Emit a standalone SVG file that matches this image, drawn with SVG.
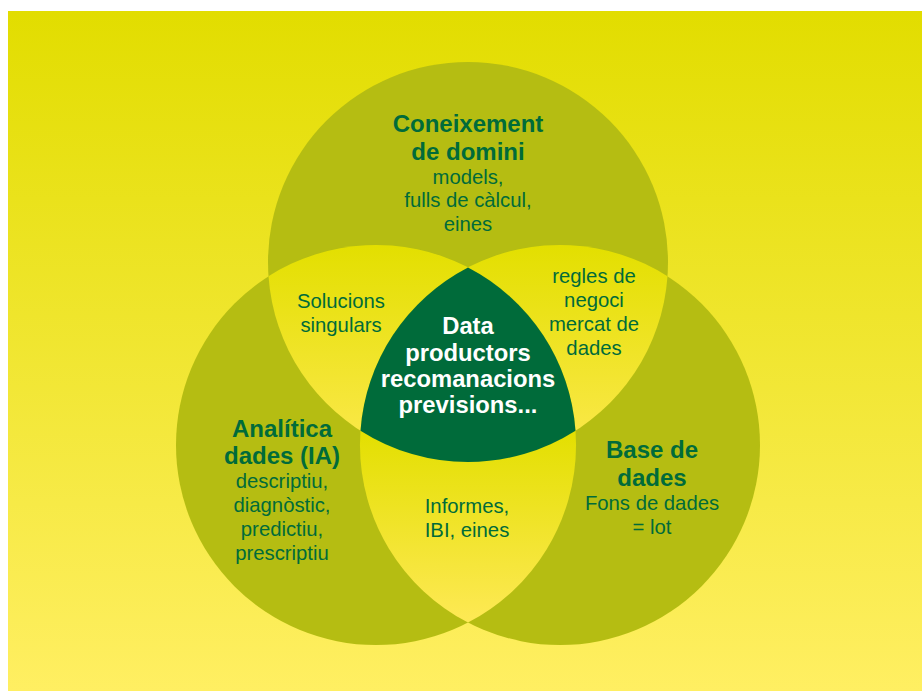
<svg xmlns="http://www.w3.org/2000/svg" width="922" height="691" viewBox="0 0 922 691">
  <defs>
    <linearGradient id="bg" x1="0" y1="11" x2="0" y2="691" gradientUnits="userSpaceOnUse">
      <stop offset="0" stop-color="#e2dd00"/>
      <stop offset="1" stop-color="#ffef62"/>
    </linearGradient>
    <linearGradient id="lens" x1="0" y1="0" x2="0" y2="1">
      <stop offset="0" stop-color="#e3df00"/>
      <stop offset="1" stop-color="#fde950"/>
    </linearGradient>
    <linearGradient id="lensB" x1="0" y1="430" x2="0" y2="623" gradientUnits="userSpaceOnUse">
      <stop offset="0" stop-color="#e3df00"/>
      <stop offset="1" stop-color="#fee955"/>
    </linearGradient>
    <style>
      .circ { fill: #b5bd12; }
      .lens { fill: url(#lens); }
      .core { fill: #006b3a; }
      text { font-family: "Liberation Sans", Arial, sans-serif; text-anchor: middle; fill: #006b3a; }
      .h { font-weight: bold; font-size: 24px; }
      .t { font-size: 20.3px; }
      .w { font-weight: bold; font-size: 23.8px; fill: #ffffff; }
    </style>
  </defs>

  <rect id="background" x="8" y="11" width="914" height="680" fill="url(#bg)"/>

  <g id="circles">
    <circle id="circle-top" class="circ" cx="468" cy="262" r="200"/>
    <circle id="circle-left" class="circ" cx="376" cy="445" r="200"/>
    <circle id="circle-right" class="circ" cx="560" cy="445" r="200"/>
  </g>

  <g id="lenses">
    <path id="lens-top-left" class="lens" d="M268.5 276.3 A200 200 0 0 1 575.5 430.7 A200 200 0 0 1 268.5 276.3 Z"/>
    <path id="lens-top-right" class="lens" d="M360.5 430.7 A200 200 0 0 1 667.5 276.3 A200 200 0 0 1 360.5 430.7 Z"/>
    <path id="lens-bottom" fill="url(#lensB)" d="M468 267.4 A200 200 0 0 1 468 622.6 A200 200 0 0 1 468 267.4 Z"/>
  </g>

  <g id="core">
    <path class="core" d="M468 267.4 A200 200 0 0 1 575.5 430.7 A200 200 0 0 1 360.5 430.7 A200 200 0 0 1 468 267.4 Z"/>
  </g>

  <g id="node-coneixement">
    <text class="h" x="468" y="132">Coneixement</text>
    <text class="h" x="468" y="160">de domini</text>
    <text class="t" x="468" y="184">models,</text>
    <text class="t" x="468" y="207">fulls de càlcul,</text>
    <text class="t" x="468" y="231">eines</text>
  </g>

  <g id="node-analitica">
    <text class="h" x="282" y="437">Analítica</text>
    <text class="h" x="282" y="464">dades (IA)</text>
    <text class="t" x="282" y="488">descriptiu,</text>
    <text class="t" x="282" y="512">diagnòstic,</text>
    <text class="t" x="282" y="536">predictiu,</text>
    <text class="t" x="282" y="560">prescriptiu</text>
  </g>

  <g id="node-base-dades">
    <text class="h" x="652" y="458">Base de</text>
    <text class="h" x="652" y="486">dades</text>
    <text class="t" x="652" y="510">Fons de dades</text>
    <text class="t" x="652" y="534">= lot</text>
  </g>

  <g id="node-solucions">
    <text class="t" x="341" y="308">Solucions</text>
    <text class="t" x="341" y="332">singulars</text>
  </g>

  <g id="node-regles">
    <text class="t" x="594" y="283">regles de</text>
    <text class="t" x="594" y="307">negoci</text>
    <text class="t" x="594" y="331">mercat de</text>
    <text class="t" x="594" y="355">dades</text>
  </g>

  <g id="node-informes">
    <text class="t" x="467" y="513">Informes,</text>
    <text class="t" x="467" y="537">IBI, eines</text>
  </g>

  <g id="node-data">
    <text class="w" x="468" y="334">Data</text>
    <text class="w" x="468" y="361">productors</text>
    <text class="w" x="468" y="387">recomanacions</text>
    <text class="w" x="468" y="413">previsions...</text>
  </g>
</svg>
